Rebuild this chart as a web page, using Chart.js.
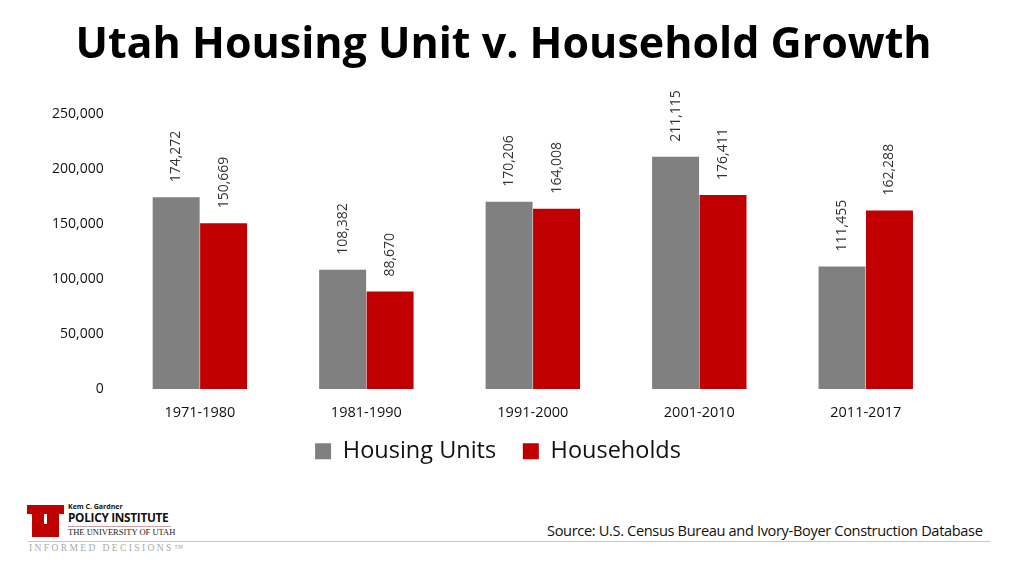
<!DOCTYPE html>
<html>
<head>
<meta charset="utf-8">
<script src="https://cdn.jsdelivr.net/npm/chart.js@4/dist/chart.umd.min.js"></script>
<style>
  body { margin: 0; background: #fff; font-family: "Open Sans", sans-serif; }
  #wrap { position: relative; width: 1024px; height: 576px; overflow: hidden; }
  #box { position: absolute; left: 0; top: 0; width: 1024px; height: 473px; }
  .abs { position: absolute; white-space: nowrap; }
  #title { position: absolute; left: 0; width: 1007px; top: 12px; text-align: center;
           font-size: 43px; font-weight: 700; color: #000; line-height: normal; }
</style>
</head>
<body>
<div id="wrap">
  <div id="box"><canvas id="myChart"></canvas></div>
  <div id="title">Utah Housing Unit v. Household Growth</div>

  <!-- footer: logo + source -->
  <div class="abs" style="left:27px;top:505px;width:37px;height:9px;background:#be0000"></div>
  <div class="abs" style="left:32px;top:505px;width:12px;height:32px;background:#be0000"></div>
  <div class="abs" style="left:47px;top:505px;width:12px;height:32px;background:#be0000"></div>
  <div class="abs" style="left:32px;top:524px;width:27px;height:13px;background:#be0000;border-radius:0 0 9px 9px"></div>
  <div class="abs" style="left:68px;top:502px;font-size:7px;font-weight:700;color:#111">Kem C. Gardner</div>
  <div class="abs" style="left:68px;top:509px;font-size:11.8px;font-weight:700;color:#111;letter-spacing:-0.3px">POLICY INSTITUTE</div>
  <div class="abs" style="left:68px;top:526px;width:103px;height:1px;background:#c9a0a8"></div>
  <div class="abs" style="left:68px;top:527px;font-family:'Liberation Serif',serif;font-size:8.5px;color:#222">THE UNIVERSITY OF UTAH</div>
  <div class="abs" style="left:28px;top:541px;width:962px;height:1px;background:#e3b8c0"></div>
  <div class="abs" style="left:29px;top:543px;font-family:'Liberation Serif',serif;font-size:9.5px;color:#aaa;letter-spacing:2.4px">INFORMED DECISIONS™</div>
  <div class="abs" style="left:547px;top:520px;font-size:14.6px;color:#111;letter-spacing:-0.35px">Source: U.S. Census Bureau and Ivory-Boyer Construction Database</div>
</div>

<script>
const periods = ['1971-1980', '1981-1990', '1991-2000', '2001-2010', '2011-2017'];
const housingUnits = [174272, 108382, 170206, 211115, 111455];
const households = [150669, 88670, 164008, 176411, 162288];
const yTicks = [0, 50000, 100000, 150000, 200000, 250000];

const fmt = v => v.toLocaleString('en-US');

// value labels written sideways above each bar
const barLabels = {
  id: 'barLabels',
  afterDatasetsDraw(chart) {
    const ctx = chart.ctx;
    ctx.save();
    ctx.font = '14px "Open Sans"';
    ctx.fillStyle = '#333';
    ctx.textAlign = 'left';
    ctx.textBaseline = 'middle';
    chart.data.datasets.forEach((ds, i) => {
      chart.getDatasetMeta(i).data.forEach((bar, j) => {
        ctx.save();
        ctx.translate(bar.x, bar.y - 15);
        ctx.rotate(-Math.PI / 2);
        ctx.fillText(fmt(ds.data[j]), 0, 0);
        ctx.restore();
      });
    });
    ctx.restore();
  }
};

const data = {
  labels: periods,
  datasets: [
    { label: 'Housing Units', data: housingUnits, backgroundColor: '#808080' },
    { label: 'Households', data: households, backgroundColor: '#c00000' }
  ]
};

const config = {
  type: 'bar',
  data: data,
  plugins: [barLabels],
  options: {
    responsive: true,
    maintainAspectRatio: false,
    animation: false,
    layout: { padding: { left: 47, right: 75, top: 114, bottom: 0 } },
    datasets: { bar: { barPercentage: 0.99, categoryPercentage: 0.57 } },
    plugins: {
      legend: {
        position: 'bottom',
        labels: {
          color: '#111',
          font: { family: 'Open Sans', size: 23.5 },
          boxWidth: 16, boxHeight: 16, padding: 11,
          // a little extra room between the two entries
          generateLabels: chart => {
            const items = Chart.defaults.plugins.legend.labels.generateLabels(chart);
            items[0].text += '\u2002\u2009';
            return items;
          }
        }
      },
      tooltip: { enabled: false }
    },
    scales: {
      x: {
        grid: { display: false },
        border: { display: false },
        ticks: { color: '#111', font: { family: 'Open Sans', size: 14.5 }, padding: 7 }
      },
      y: {
        min: 0, max: 250000,
        afterBuildTicks: axis => { axis.ticks = yTicks.map(v => ({ value: v })); },
        grid: { display: false },
        border: { display: false },
        ticks: { color: '#111', font: { family: 'Open Sans', size: 14 }, padding: 5, callback: v => fmt(v) }
      }
    }
  }
};

const myChart = new Chart(document.getElementById('myChart'), config);
</script>
</body>
</html>
